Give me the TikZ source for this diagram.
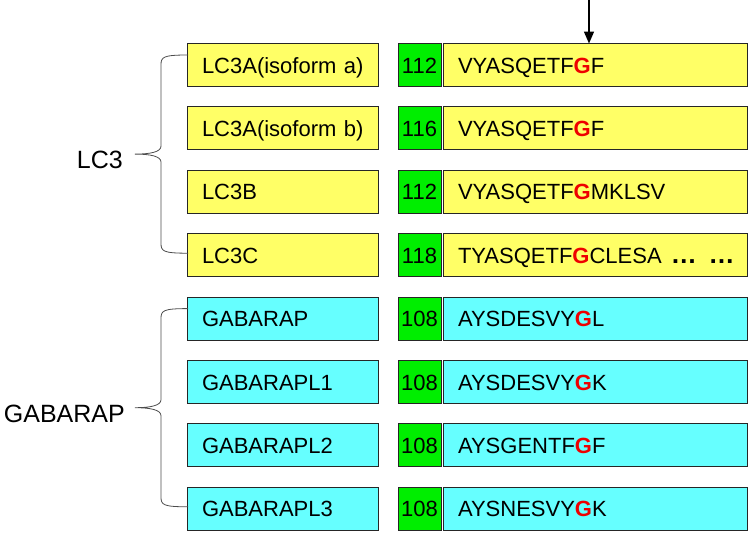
\documentclass[tikz,border=0pt]{standalone}
\usepackage{fontspec}
\setmainfont{Liberation Sans}
\usetikzlibrary{positioning,calc,arrows.meta}

\definecolor{lcyellow}{HTML}{FFFF66}
\definecolor{gabcyan}{HTML}{66FFFF}
\definecolor{numgreen}{HTML}{00EE00}
\definecolor{glyred}{HTML}{EE0000}
\newcommand{\gly}{\textcolor{glyred}{\bfseries G}}

\tikzset{
  box/.style={draw=black!85, line width=1pt, outer sep=0pt, minimum height=43pt,
    text height=17pt, text depth=1pt, font=\fontsize{22}{26}\selectfont},
  namebox/.style={box, text width=161pt, inner xsep=15pt, align=left},
  numbox/.style={box, fill=numgreen, minimum width=43pt, inner xsep=0pt},
  seqbox/.style={box, text width=274pt, inner xsep=15pt, align=left},
  grplabel/.style={font=\fontsize{25}{30}\selectfont, inner sep=0pt, yshift=-6pt},
  brace/.style={draw=black!70, line width=0.8pt}
}

\begin{document}
\begin{tikzpicture}[x=1pt, y=-1pt, node distance=20.4pt and 20pt, >={Triangle[length=12pt,width=10pt]}]
    \useasboundingbox (0,0) rectangle (750,533);
    % LC3 family
    \node[namebox, fill=lcyellow, anchor=west] (lc3a1) at (187,65) {LC3A(isoform~a)};
    \node[namebox, fill=lcyellow, below=of lc3a1] (lc3a2) {LC3A(isoform~b)};
    \node[namebox, fill=lcyellow, below=of lc3a2] (lc3b) {LC3B};
    \node[namebox, fill=lcyellow, below=of lc3b] (lc3c) {LC3C};
    \node[numbox, right=of lc3a1] (num1) {112};
    \node[numbox, right=of lc3a2] (num2) {116};
    \node[numbox, right=of lc3b] (num3) {112};
    \node[numbox, right=of lc3c] (num4) {118};
    \node[seqbox, fill=lcyellow, right=2pt of num1] (seq1) {VYASQETF\gly F};
    \node[seqbox, fill=lcyellow, right=2pt of num2] (seq2) {VYASQETF\gly F};
    \node[seqbox, fill=lcyellow, right=2pt of num3] (seq3) {VYASQETF\gly MKLSV};
    \node[seqbox, fill=lcyellow, right=2pt of num4] (seq4) {\mbox{TYASQETF\gly CLESA\hspace{9pt}{\bfseries\fontsize{26}{26}\selectfont …\hspace{12pt}…}}};
    % GABARAP family
    \node[namebox, fill=gabcyan, below=of lc3c] (gab) {GABARAP};
    \node[namebox, fill=gabcyan, below=of gab] (gabl1) {GABARAPL1};
    \node[namebox, fill=gabcyan, below=of gabl1] (gabl2) {GABARAPL2};
    \node[namebox, fill=gabcyan, below=of gabl2] (gabl3) {GABARAPL3};
    \node[numbox, right=of gab] (num5) {108};
    \node[numbox, right=of gabl1] (num6) {108};
    \node[numbox, right=of gabl2] (num7) {108};
    \node[numbox, right=of gabl3] (num8) {108};
    \node[seqbox, fill=gabcyan, right=2pt of num5] (seq5) {AYSDESVY\gly L};
    \node[seqbox, fill=gabcyan, right=2pt of num6] (seq6) {AYSDESVY\gly K};
    \node[seqbox, fill=gabcyan, right=2pt of num7] (seq7) {AYSGENTF\gly F};
    \node[seqbox, fill=gabcyan, right=2pt of num8] (seq8) {AYSNESVY\gly K};
    % cleavage site
    \coordinate (gsite) at (589,0);
    \draw[->, line width=1.5pt] (gsite) -- (gsite |- seq1.north);
    % braces
    \coordinate (b1t) at ($(lc3a1.west)+(1,-10)$);
    \coordinate (b1b) at ($(lc3c.west)+(1,-2)$);
    \coordinate (b1m) at ($(b1t)!0.5!(b1b)+(-53,0)$);
    \node[grplabel, left=12pt of b1m] (lc3) {LC3};
    \draw[brace] (b1t) .. controls +(-25,0) and +(0,-8) .. ($(b1t)+(-27,10)$)
        -- ($(b1m)+(26,-8)$) .. controls +(0,6) and +(15,0) .. (b1m)
        .. controls +(15,0) and +(0,-6) .. ($(b1m)+(26,8)$)
        -- ($(b1b)+(-27,-10)$) .. controls +(0,8) and +(-25,0) .. (b1b);
    \coordinate (b2t) at ($(gab.west)+(1,-10)$);
    \coordinate (b2b) at ($(gabl3.west)+(1,-2)$);
    \coordinate (b2m) at ($(b2t)!0.5!(b2b)+(-53,0)$);
    \node[grplabel, left=10pt of b2m] (gabarap) {GABARAP};
    \draw[brace] (b2t) .. controls +(-25,0) and +(0,-8) .. ($(b2t)+(-27,10)$)
        -- ($(b2m)+(26,-8)$) .. controls +(0,6) and +(15,0) .. (b2m)
        .. controls +(15,0) and +(0,-6) .. ($(b2m)+(26,8)$)
        -- ($(b2b)+(-27,-10)$) .. controls +(0,8) and +(-25,0) .. (b2b);
\end{tikzpicture}
\end{document}
